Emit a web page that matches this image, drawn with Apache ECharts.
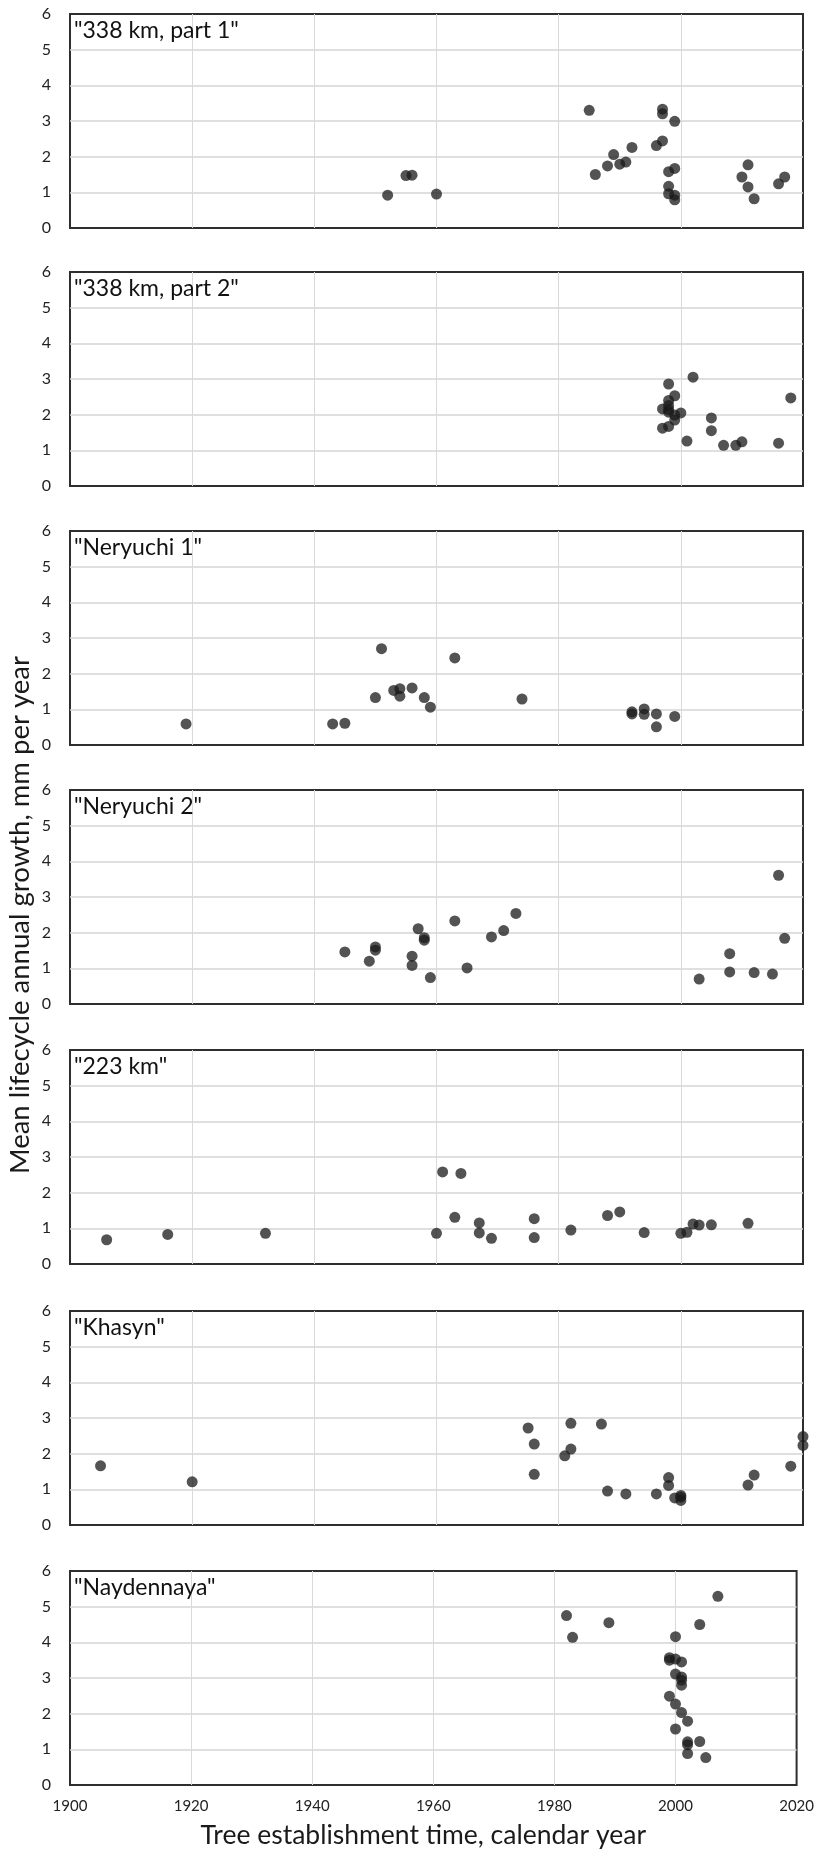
<!DOCTYPE html>
<html>
<head>
<meta charset="utf-8">
<script src="https://cdn.jsdelivr.net/npm/echarts@6/dist/echarts.min.js"></script>
<style>
html,body{margin:0;padding:0;background:#fff;}
#chart{width:817px;height:1851px;}
</style>
</head>
<body>
<div id="chart"></div>
<script>
const panelNames = ['"338 km, part 1"', '"338 km, part 2"', '"Neryuchi 1"', '"Neryuchi 2"', '"223 km"', '"Khasyn"', '"Naydennaya"'];

const p1Years = [1952,1955,1956,1960,1985,1986,1988,1989,1990,1991,1992,1996,1997,1997,1997,1999,1998,1999,1998,1998,1999,1999,2010,2011,2011,2012,2016,2017];
const p1Growth = [0.92,1.47,1.48,0.95,3.30,1.50,1.74,2.06,1.79,1.85,2.26,2.31,2.44,3.33,3.20,2.99,1.58,1.67,1.17,0.96,0.92,0.79,1.43,1.77,1.15,0.82,1.24,1.43];

const p2Years = [1997,1997,1998,1998,1998,1998,1998,1998,1999,1999,1999,2000,2001,2002,2005,2005,2007,2009,2010,2016,2018];
const p2Growth = [2.16,1.62,2.86,2.40,2.26,2.14,2.07,1.67,2.53,1.85,1.99,2.05,1.26,3.05,1.91,1.55,1.14,1.14,1.24,1.20,2.47];

const p3Years = [1919,1943,1945,1950,1951,1953,1954,1954,1956,1958,1959,1963,1974,1992,1992,1994,1994,1996,1996,1999];
const p3Growth = [0.59,0.59,0.61,1.33,2.70,1.53,1.58,1.37,1.60,1.33,1.06,2.44,1.29,0.93,0.87,1.01,0.86,0.87,0.51,0.80];

const p4Years = [1945,1949,1950,1950,1956,1956,1957,1958,1958,1959,1963,1965,1969,1971,1973,2003,2008,2008,2012,2015,2016,2017];
const p4Growth = [1.46,1.20,1.60,1.51,1.34,1.08,2.11,1.86,1.79,0.74,2.33,1.01,1.88,2.06,2.54,0.70,1.41,0.90,0.88,0.84,3.61,1.84];

const p5Years = [1906,1916,1932,1960,1961,1963,1964,1967,1967,1969,1976,1976,1982,1988,1990,1994,2000,2001,2002,2003,2005,2011];
const p5Growth = [0.68,0.83,0.86,0.86,2.58,1.31,2.54,1.15,0.87,0.72,1.27,0.74,0.95,1.36,1.46,0.88,0.86,0.89,1.12,1.09,1.10,1.14];

const p6Years = [1905,1920,1975,1976,1976,1981,1982,1982,1987,1988,1991,1996,1998,1998,1999,2000,2000,2000,2011,2012,2018,2020,2020];
const p6Growth = [1.66,1.21,2.72,2.27,1.42,1.94,2.85,2.13,2.83,0.95,0.87,0.87,1.33,1.11,0.76,0.83,0.78,0.69,1.12,1.40,1.65,2.48,2.23];

const p7Years = [1982,1983,1989,2000,2004,2007,1999,1999,2000,2001,2000,2001,2001,2001,1999,2000,2001,2002,2000,2002,2002,2004,2002,2005];
const p7Growth = [4.75,4.14,4.55,4.16,4.50,5.29,3.57,3.50,3.53,3.45,3.11,3.03,2.94,2.80,2.49,2.27,2.03,1.79,1.57,1.21,1.13,1.22,0.88,0.77];

const yearTicks = [1900,1920,1940,1960,1980,2000,2020];
const growthTicks = [0,1,2,3,4,5,6];
const xTitle = 'Tree establishment time, calendar year';
const yTitle = 'Mean lifecycle annual growth, mm per year';

const panelYears = [p1Years,p2Years,p3Years,p4Years,p5Years,p6Years,p7Years];
const panelGrowth = [p1Growth,p2Growth,p3Growth,p4Growth,p5Growth,p6Growth,p7Growth];

const tops = [14, 272, 531, 790, 1050, 1311, 1571];
const gridH = 214;
const lato = 'Lato, "Open Sans", sans-serif';

const grids = [], xAxes = [], yAxes = [], series = [], titles = [];
for (let i = 0; i < 7; i++) {
  const last = i === 6;
  grids.push({left: 70, width: 733, top: tops[i], height: gridH, show: true,
    borderColor: '#2e2e2e', borderWidth: 2, backgroundColor: '#fff', containLabel: false});
  xAxes.push({type: 'value', gridIndex: i, min: yearTicks[0], max: yearTicks[yearTicks.length-1], interval: 20,
    axisLine: {show: false}, axisTick: {show: false},
    axisLabel: {show: last, color: '#222', fontFamily: lato, fontSize: 15, margin: 14,
      formatter: v => String(v)},
    splitLine: {show: true, showMinLine: false, showMaxLine: false, lineStyle: {color: '#d9d9d9', width: 1}},
    name: last ? xTitle : '', nameLocation: 'middle', nameGap: 37,
    nameTextStyle: {fontFamily: lato, fontSize: 26.5, color: '#1a1a1a', padding: [0, 20, 0, 0]}
  });
  yAxes.push({type: 'value', gridIndex: i, min: growthTicks[0], max: growthTicks[growthTicks.length-1], interval: 1,
    axisLine: {show: false}, axisTick: {show: false},
    axisLabel: {color: '#222', fontFamily: lato, fontSize: 16, margin: 19},
    splitLine: {show: true, showMinLine: false, showMaxLine: false, lineStyle: {color: '#d4d4d4', width: 1.5}}
  });
  series.push({type: 'scatter', xAxisIndex: i, yAxisIndex: i,
    data: panelYears[i].map((y, k) => [y, panelGrowth[i][k]]),
    symbolSize: 11, clip: false,
    itemStyle: {color: '#1a1a1a', opacity: 0.75}
  });
  titles.push({text: panelNames[i], left: 74, top: tops[i] + 5, padding: 0,
    textStyle: {fontFamily: lato, fontSize: 23, fontWeight: 'normal', color: '#111'}});
}

const chart = echarts.init(document.getElementById('chart'), null, {renderer: 'canvas'});
chart.setOption({
  animation: false,
  backgroundColor: '#fff',
  title: titles,
  grid: grids,
  xAxis: xAxes,
  yAxis: yAxes,
  series: series,
  graphic: [{
    type: 'text', x: 20, y: 915, rotation: Math.PI / 2,
    style: {text: yTitle, fontFamily: lato, fontSize: 27.5, fill: '#1a1a1a',
      textAlign: 'center', textVerticalAlign: 'middle'}
  }]
});
</script>
</body>
</html>
